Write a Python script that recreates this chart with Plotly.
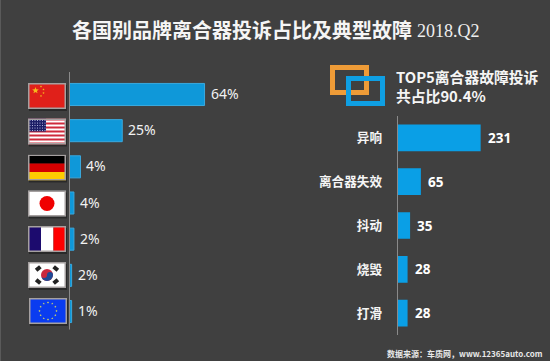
import base64
import math
import plotly.graph_objects as go

W, H = 550, 361
BG = "#404040"
FONT = "Noto Sans CJK SC, Noto Sans, sans-serif"

countries = ["中国", "美国", "德国", "日本", "法国", "韩国", "欧盟"]
share_bars = [64, 25, 5.2, 2.1, 2.1, 1, 1]
share_labels = ["64%", "25%", "4%", "4%", "2%", "2%", "1%"]
faults = ["异响", "离合器失效", "抖动", "烧毁", "打滑"]
fault_counts = [231, 65, 35, 28, 28]


def svg_uri(body):
    svg = f'<svg xmlns="http://www.w3.org/2000/svg" width="76" height="52" viewBox="0 0 76 52">{body}' \
          '<rect x="1.5" y="1.5" width="73" height="49" fill="none" stroke="#a5a0a0" stroke-width="3"/></svg>'
    return "data:image/svg+xml;base64," + base64.b64encode(svg.encode()).decode()


def star(cx, cy, r, fill):
    pts = []
    for i in range(10):
        rr = r if i % 2 == 0 else r * 0.42
        a = -math.pi / 2 + i * math.pi / 5
        pts.append(f"{cx + rr * math.cos(a):.1f},{cy + rr * math.sin(a):.1f}")
    return f'<polygon points="{" ".join(pts)}" fill="{fill}"/>'


cn = '<rect width="76" height="52" fill="#e0201a"/>' + star(15, 15, 7, "#f5b81c") + "".join(
    star(x, y, 2.4, "#f5b81c") for x, y in [(26, 7), (31, 13), (31, 20), (26, 26)])
us = '<rect width="76" height="52" fill="#fff"/>' + "".join(
    f'<rect y="{i * 8}" width="76" height="4" fill="#cf2a3c"/>' for i in range(7)) + \
    '<rect width="36" height="26" fill="#1c1e66"/>' + "".join(
    f'<circle cx="{4 + 5 * i}" cy="{4 + 5 * j}" r="1" fill="#dfe0ff"/>' for i in range(7) for j in range(5))
de = '<rect width="76" height="18" fill="#000"/><rect y="18" width="76" height="17" fill="#d40000"/>' \
     '<rect y="35" width="76" height="17" fill="#ffcc00"/>'
jp = '<rect width="76" height="52" fill="#fff"/><circle cx="38" cy="26" r="15" fill="#f00000"/>'
fr = '<rect width="26" height="52" fill="#1c0b6e"/><rect x="26" width="25" height="52" fill="#fff"/>' \
     '<rect x="51" width="25" height="52" fill="#ff0000"/>'
kr = '<rect width="76" height="52" fill="#fff"/><circle cx="38" cy="26" r="12" fill="#c9283e"/>' \
     '<path d="M26 26a12 12 0 0 0 24 0a6 6 0 0 0-12 0a6 6 0 0 1-12 0z" fill="#1f4a96"/>' + "".join(
    f'<rect x="{x}" y="{y}" width="11" height="8" fill="#222" transform="rotate({r} {x + 5.5} {y + 4})"/>'
    for x, y, r in [(15, 9, -40), (50, 9, 40), (15, 35, 40), (50, 35, -40)])
eu = '<rect width="76" height="52" fill="#0a3cf0"/>' + "".join(
    star(38 + 17 * math.cos(i * 0.5236), 26 + 17 * math.sin(i * 0.5236), 2.3, "#dbe060")
    for i in range(12))

flag_bodies = [cn, us, de, jp, fr, kr, eu]
flag_boxes = [(28, 83), (28, 118.5), (28, 154.5), (28, 190.5), (28, 226), (28, 262), (29, 298)]

fig = go.Figure()
fig.add_bar(y=countries, x=share_bars, orientation="h", cliponaxis=False,
            marker=dict(color="#0f98d9", line=dict(color="#3aa9de", width=1)), xaxis="x", yaxis="y", showlegend=False)
fig.add_bar(y=faults, x=fault_counts, orientation="h", cliponaxis=False,
            marker=dict(color="#0a9fe6", line=dict(width=0)), xaxis="x2", yaxis="y2", showlegend=False)


def px(x):
    return x / W


def py(y):
    return 1 - y / H


shapes = []
images = []
for (x, y), body in zip(flag_boxes, flag_bodies):
    shapes.append(dict(type="rect", xref="paper", yref="paper", x0=px(x + 1), x1=px(x + 39), y0=py(y + 2), y1=py(y + 28),
                       fillcolor="rgba(0,0,0,0.35)", line_width=0, layer="below"))
    images.append(dict(source=svg_uri(body), xref="paper", yref="paper", x=px(x), y=py(y), sizex=38 / W, sizey=26 / H,
                       xanchor="left", yanchor="top", sizing="stretch", layer="above"))

shapes.append(dict(type="rect", xref="paper", yref="paper", x0=px(332.5), x1=px(366.5), y0=py(67.5), y1=py(92.5),
                   line=dict(color="#ee9b37", width=5), fillcolor="rgba(0,0,0,0)"))
shapes.append(dict(type="rect", xref="paper", yref="paper", x0=px(348.5), x1=px(382.5), y0=py(78.5), y1=py(103.5),
                   line=dict(color="#0f9fe3", width=5), fillcolor="rgba(0,0,0,0)"))
shapes.append(dict(type="line", xref="paper", yref="paper", x0=px(69.5), x1=px(69.5), y0=py(72), y1=py(329.5),
                   line=dict(color="#8a8a8a", width=1)))
shapes.append(dict(type="line", xref="paper", yref="paper", x0=px(0.5), x1=px(0.5), y0=0, y1=1,
                   line=dict(color="#5a5a5a", width=1)))

annotations = [
    dict(text="<b>各国别品牌离合器投诉占比及典型故障</b>", x=px(70), y=py(30), xanchor="left", yanchor="middle", showarrow=False,
         font=dict(size=20, color="#f5f5f5", family=FONT), xref="paper", yref="paper"),
    dict(text="2018.Q2", x=px(415), y=py(31), xanchor="left", yanchor="middle", showarrow=False,
         font=dict(size=18, color="#eeeeee", family="Liberation Serif, serif"), xref="paper", yref="paper"),
    dict(text="<b>TOP5离合器故障投诉<br>共占比90.4%</b>", x=px(394), y=py(86), xanchor="left", yanchor="middle", align="left",
         showarrow=False, font=dict(size=14.8, color="#f5f5f5", family=FONT), xref="paper", yref="paper"),
    dict(text="<b>数据来源：车质网，www.12365auto.com</b>", x=px(545), y=py(353), xanchor="right", yanchor="middle",
         showarrow=False, font=dict(size=8, color="#e8e8e8", family=FONT), xref="paper", yref="paper"),
]
for c, v, t in zip(countries, share_bars, share_labels):
    annotations.append(dict(text=t, x=v, y=c, xref="x", yref="y", xanchor="left", yanchor="middle", xshift=4, yshift=1,
                            showarrow=False, font=dict(size=14, color="#f2f2f2", family="Noto Sans, sans-serif")))
for c, v in zip(faults, fault_counts):
    annotations.append(dict(text=f"<b>{v}</b>", x=v, y=c, xref="x2", yref="y2", xanchor="left", yanchor="middle", xshift=5,
                            showarrow=False, font=dict(size=13.5, color="#ffffff", family="Noto Sans, sans-serif")))

fig.update_layout(
    width=W, height=H, margin=dict(l=0, r=0, t=0, b=0), paper_bgcolor=BG, plot_bgcolor="rgba(0,0,0,0)",
    autosize=False, bargap=0.39, shapes=shapes, images=images, annotations=annotations,
    xaxis=dict(domain=[px(69.5), px(280.5)], range=[0, 100], visible=False, fixedrange=True),
    yaxis=dict(domain=[py(329.6), py(76.4)], autorange="reversed", anchor="x", showticklabels=False, ticks="",
               showgrid=False, zeroline=False, showline=False, fixedrange=True),
    xaxis2=dict(domain=[px(397.5), px(505.5)], range=[0, 300], visible=False, anchor="y2", fixedrange=True),
    yaxis2=dict(domain=[py(335), py(116)], autorange="reversed", anchor="x2", ticks="", showgrid=False, zeroline=False,
                showline=True, linecolor="#8a8a8a", linewidth=1, ticklabelstandoff=12,
                tickfont=dict(size=12.6, color="#f5f5f5", family=FONT, weight="bold"), fixedrange=True),
)
fig.write_html("out.html", config=dict(displayModeBar=False),
               post_script="document.body.style.margin='0';document.documentElement.style.background='#404040';")
